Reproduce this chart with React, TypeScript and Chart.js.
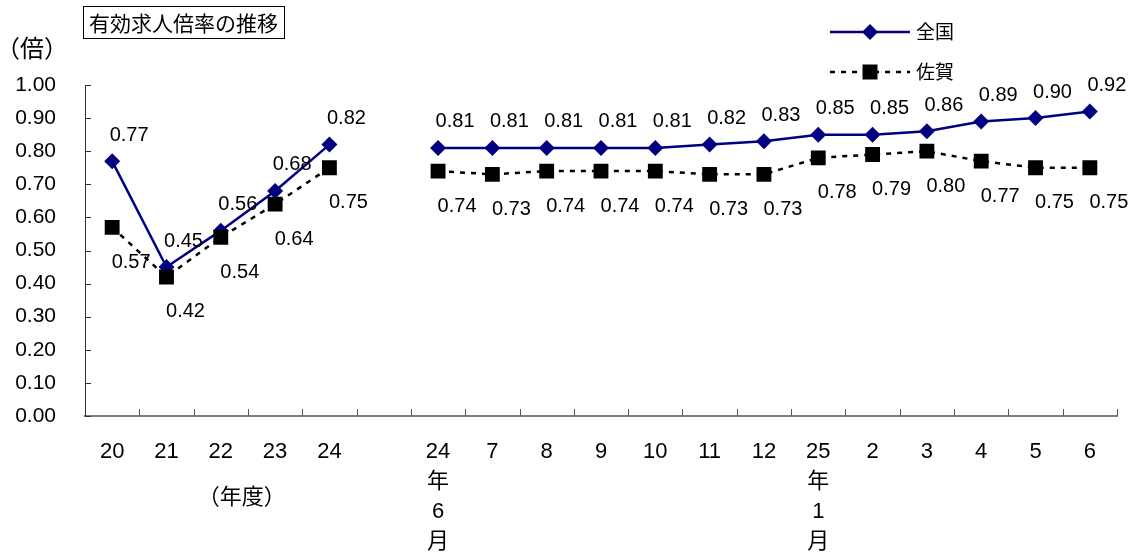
import React, { useEffect, useRef } from 'react';
import { Chart, registerables } from 'chart.js';

Chart.register(...registerables);

const categories: (string | string[])[] = [
  '20', '21', '22', '23', '24', '',
  ['24', '年', '6', '月'], '7', '8', '9', '10', '11', '12',
  ['25', '年', '1', '月'], '2', '3', '4', '5', '6',
];
const nationalValues: (number | null)[] = [
  0.77, 0.45, 0.56, 0.68, 0.82, null,
  0.81, 0.81, 0.81, 0.81, 0.81, 0.82, 0.83, 0.85, 0.85, 0.86, 0.89, 0.90, 0.92,
];
const sagaValues: (number | null)[] = [
  0.57, 0.42, 0.54, 0.64, 0.75, null,
  0.74, 0.73, 0.74, 0.74, 0.74, 0.73, 0.73, 0.78, 0.79, 0.80, 0.77, 0.75, 0.75,
];
const seriesNames = ['全国', '佐賀'];
const chartTitle = '有効求人倍率の推移';
const yUnitLabel = '（倍）';
const xUnitLabel = '（年度）';
const yMin = 0;
const yMax = 1.0;
const yStep = 0.1;

const NAVY = '#000080';
const NUM_FONT = '"Liberation Sans", Arial, sans-serif';
const CJK_FONT = '"Noto Sans CJK JP", "Liberation Sans", sans-serif';
const MIX_FONT = '"Liberation Sans", "Noto Sans CJK JP", sans-serif';

function diamond(ctx: CanvasRenderingContext2D, x: number, y: number, r: number) {
  ctx.beginPath();
  ctx.moveTo(x, y - r);
  ctx.lineTo(x + r, y);
  ctx.lineTo(x, y + r);
  ctx.lineTo(x - r, y);
  ctx.closePath();
  ctx.fill();
}

const decorPlugin = {
  id: 'decor',
  afterDatasetsDraw(chart: any) {
    const ctx: CanvasRenderingContext2D = chart.ctx;
    ctx.save();
    ctx.font = `20px ${NUM_FONT}`;
    ctx.fillStyle = '#000';
    ctx.textAlign = 'center';
    ctx.textBaseline = 'middle';
    const offsets = [
      { dx: 17, dy: -26 },
      { dx: 19, dy: 35 },
    ];
    chart.data.datasets.forEach((ds: any, di: number) => {
      const meta = chart.getDatasetMeta(di);
      meta.data.forEach((pt: any, i: number) => {
        const v = ds.data[i];
        if (v === null || v === undefined) return;
        ctx.fillText(v.toFixed(2), pt.x + offsets[di].dx, pt.y + offsets[di].dy);
      });
    });
    ctx.restore();
  },
  afterDraw(chart: any) {
    const ctx: CanvasRenderingContext2D = chart.ctx;
    const area = chart.chartArea;
    const xs = chart.scales.x;
    const ys = chart.scales.y;
    ctx.save();

    // inward tick marks on x axis
    ctx.strokeStyle = '#555';
    ctx.lineWidth = 1;
    const n = categories.length;
    const step = (area.right - area.left) / n;
    for (let i = 1; i <= n; i++) {
      const px = Math.round(xs.getPixelForValue(i - 1) + step / 2) + 0.5;
      ctx.beginPath();
      ctx.moveTo(px, area.bottom);
      ctx.lineTo(px, area.bottom - 7);
      ctx.stroke();
    }
    // inward tick marks on y axis
    ctx.strokeStyle = '#333';
    for (let v = yMin; v <= yMax + 1e-9; v += yStep) {
      const py = Math.round(ys.getPixelForValue(v)) + 0.5;
      ctx.beginPath();
      ctx.moveTo(area.left, py);
      ctx.lineTo(area.left + 6, py);
      ctx.stroke();
    }

    // title box
    ctx.font = `21px ${CJK_FONT}`;
    ctx.fillStyle = '#000';
    ctx.textBaseline = 'middle';
    ctx.textAlign = 'center';
    const bx = 83;
    const bw = 201;
    ctx.strokeStyle = '#000';
    ctx.lineWidth = 1;
    ctx.strokeRect(bx + 0.5, 6.5, bw, 32);
    ctx.fillText(chartTitle, bx + bw / 2, 23);

    // y unit
    ctx.font = `24px ${CJK_FONT}`;
    ctx.fillText(yUnitLabel, 32, 48);

    // x unit
    ctx.font = `22px ${CJK_FONT}`;
    ctx.fillText(xUnitLabel, xs.getPixelForValue(2) + 21, 496);

    // legend
    const lx1 = 830;
    const lx2 = 910;
    const lmid = 870;
    ctx.strokeStyle = NAVY;
    ctx.lineWidth = 2.5;
    ctx.beginPath();
    ctx.moveTo(lx1, 32);
    ctx.lineTo(lx2, 32);
    ctx.stroke();
    ctx.fillStyle = NAVY;
    diamond(ctx, lmid, 32, 8);

    ctx.strokeStyle = '#000';
    ctx.setLineDash([5, 6]);
    ctx.beginPath();
    ctx.moveTo(lx1, 72);
    ctx.lineTo(lx2, 72);
    ctx.stroke();
    ctx.setLineDash([]);
    ctx.fillStyle = '#000';
    ctx.fillRect(lmid - 7.5, 72 - 7.5, 15, 15);

    ctx.font = `19px ${CJK_FONT}`;
    ctx.textAlign = 'left';
    ctx.fillText(seriesNames[0], 916, 32);
    ctx.fillText(seriesNames[1], 916, 72);

    ctx.restore();
  },
};

export default function App() {
  const canvasRef = useRef<HTMLCanvasElement | null>(null);

  useEffect(() => {
    if (!canvasRef.current) return;
    const chart = new Chart(canvasRef.current, {
      type: 'line',
      data: {
        labels: categories as any,
        datasets: [
          {
            label: seriesNames[0],
            data: nationalValues,
            borderColor: NAVY,
            backgroundColor: NAVY,
            borderWidth: 2.5,
            pointStyle: 'rectRot',
            pointRadius: 8,
            pointHoverRadius: 8,
            pointBackgroundColor: NAVY,
            pointBorderColor: NAVY,
            pointBorderWidth: 0,
            spanGaps: false,
            tension: 0,
            order: 2,
          },
          {
            label: seriesNames[1],
            data: sagaValues,
            borderColor: '#000',
            backgroundColor: '#000',
            borderWidth: 2.5,
            borderDash: [5, 6],
            pointStyle: 'rect',
            pointRadius: 10.5,
            pointHoverRadius: 10.5,
            pointBackgroundColor: '#000',
            pointBorderColor: '#000',
            pointBorderWidth: 0,
            spanGaps: false,
            tension: 0,
            order: 1,
          },
        ],
      },
      options: {
        animation: false,
        responsive: true,
        maintainAspectRatio: false,
        layout: { padding: { top: 85, right: 19, left: 0, bottom: 0 } },
        plugins: {
          legend: { display: false },
          tooltip: { enabled: false },
          title: { display: false },
        },
        scales: {
          x: {
            type: 'category',
            offset: true,
            grid: { display: false, drawTicks: false, offset: true },
            border: { display: true, color: '#808080', width: 2 },
            ticks: {
              autoSkip: false,
              maxRotation: 0,
              minRotation: 0,
              padding: 21,
              color: '#000',
              font: { family: MIX_FONT, size: 22, lineHeight: '30px' } as any,
            },
            afterFit(scale: any) {
              scale.height = 142;
            },
          },
          y: {
            min: yMin,
            max: yMax,
            ticks: {
              stepSize: yStep,
              padding: 29,
              color: '#000',
              font: { family: NUM_FONT, size: 21 },
              callback: (v: any) => Number(v).toFixed(2),
            },
            grid: { display: false, drawTicks: false },
            border: { display: true, color: '#333', width: 1 },
            afterFit(scale: any) {
              scale.width = 85;
            },
          },
        },
      },
      plugins: [decorPlugin],
    });
    return () => chart.destroy();
  }, []);

  return (
    <div style={{ position: 'fixed', left: 0, top: 0, width: 1136, height: 558, background: '#fff' }}>
      <canvas ref={canvasRef} />
    </div>
  );
}
